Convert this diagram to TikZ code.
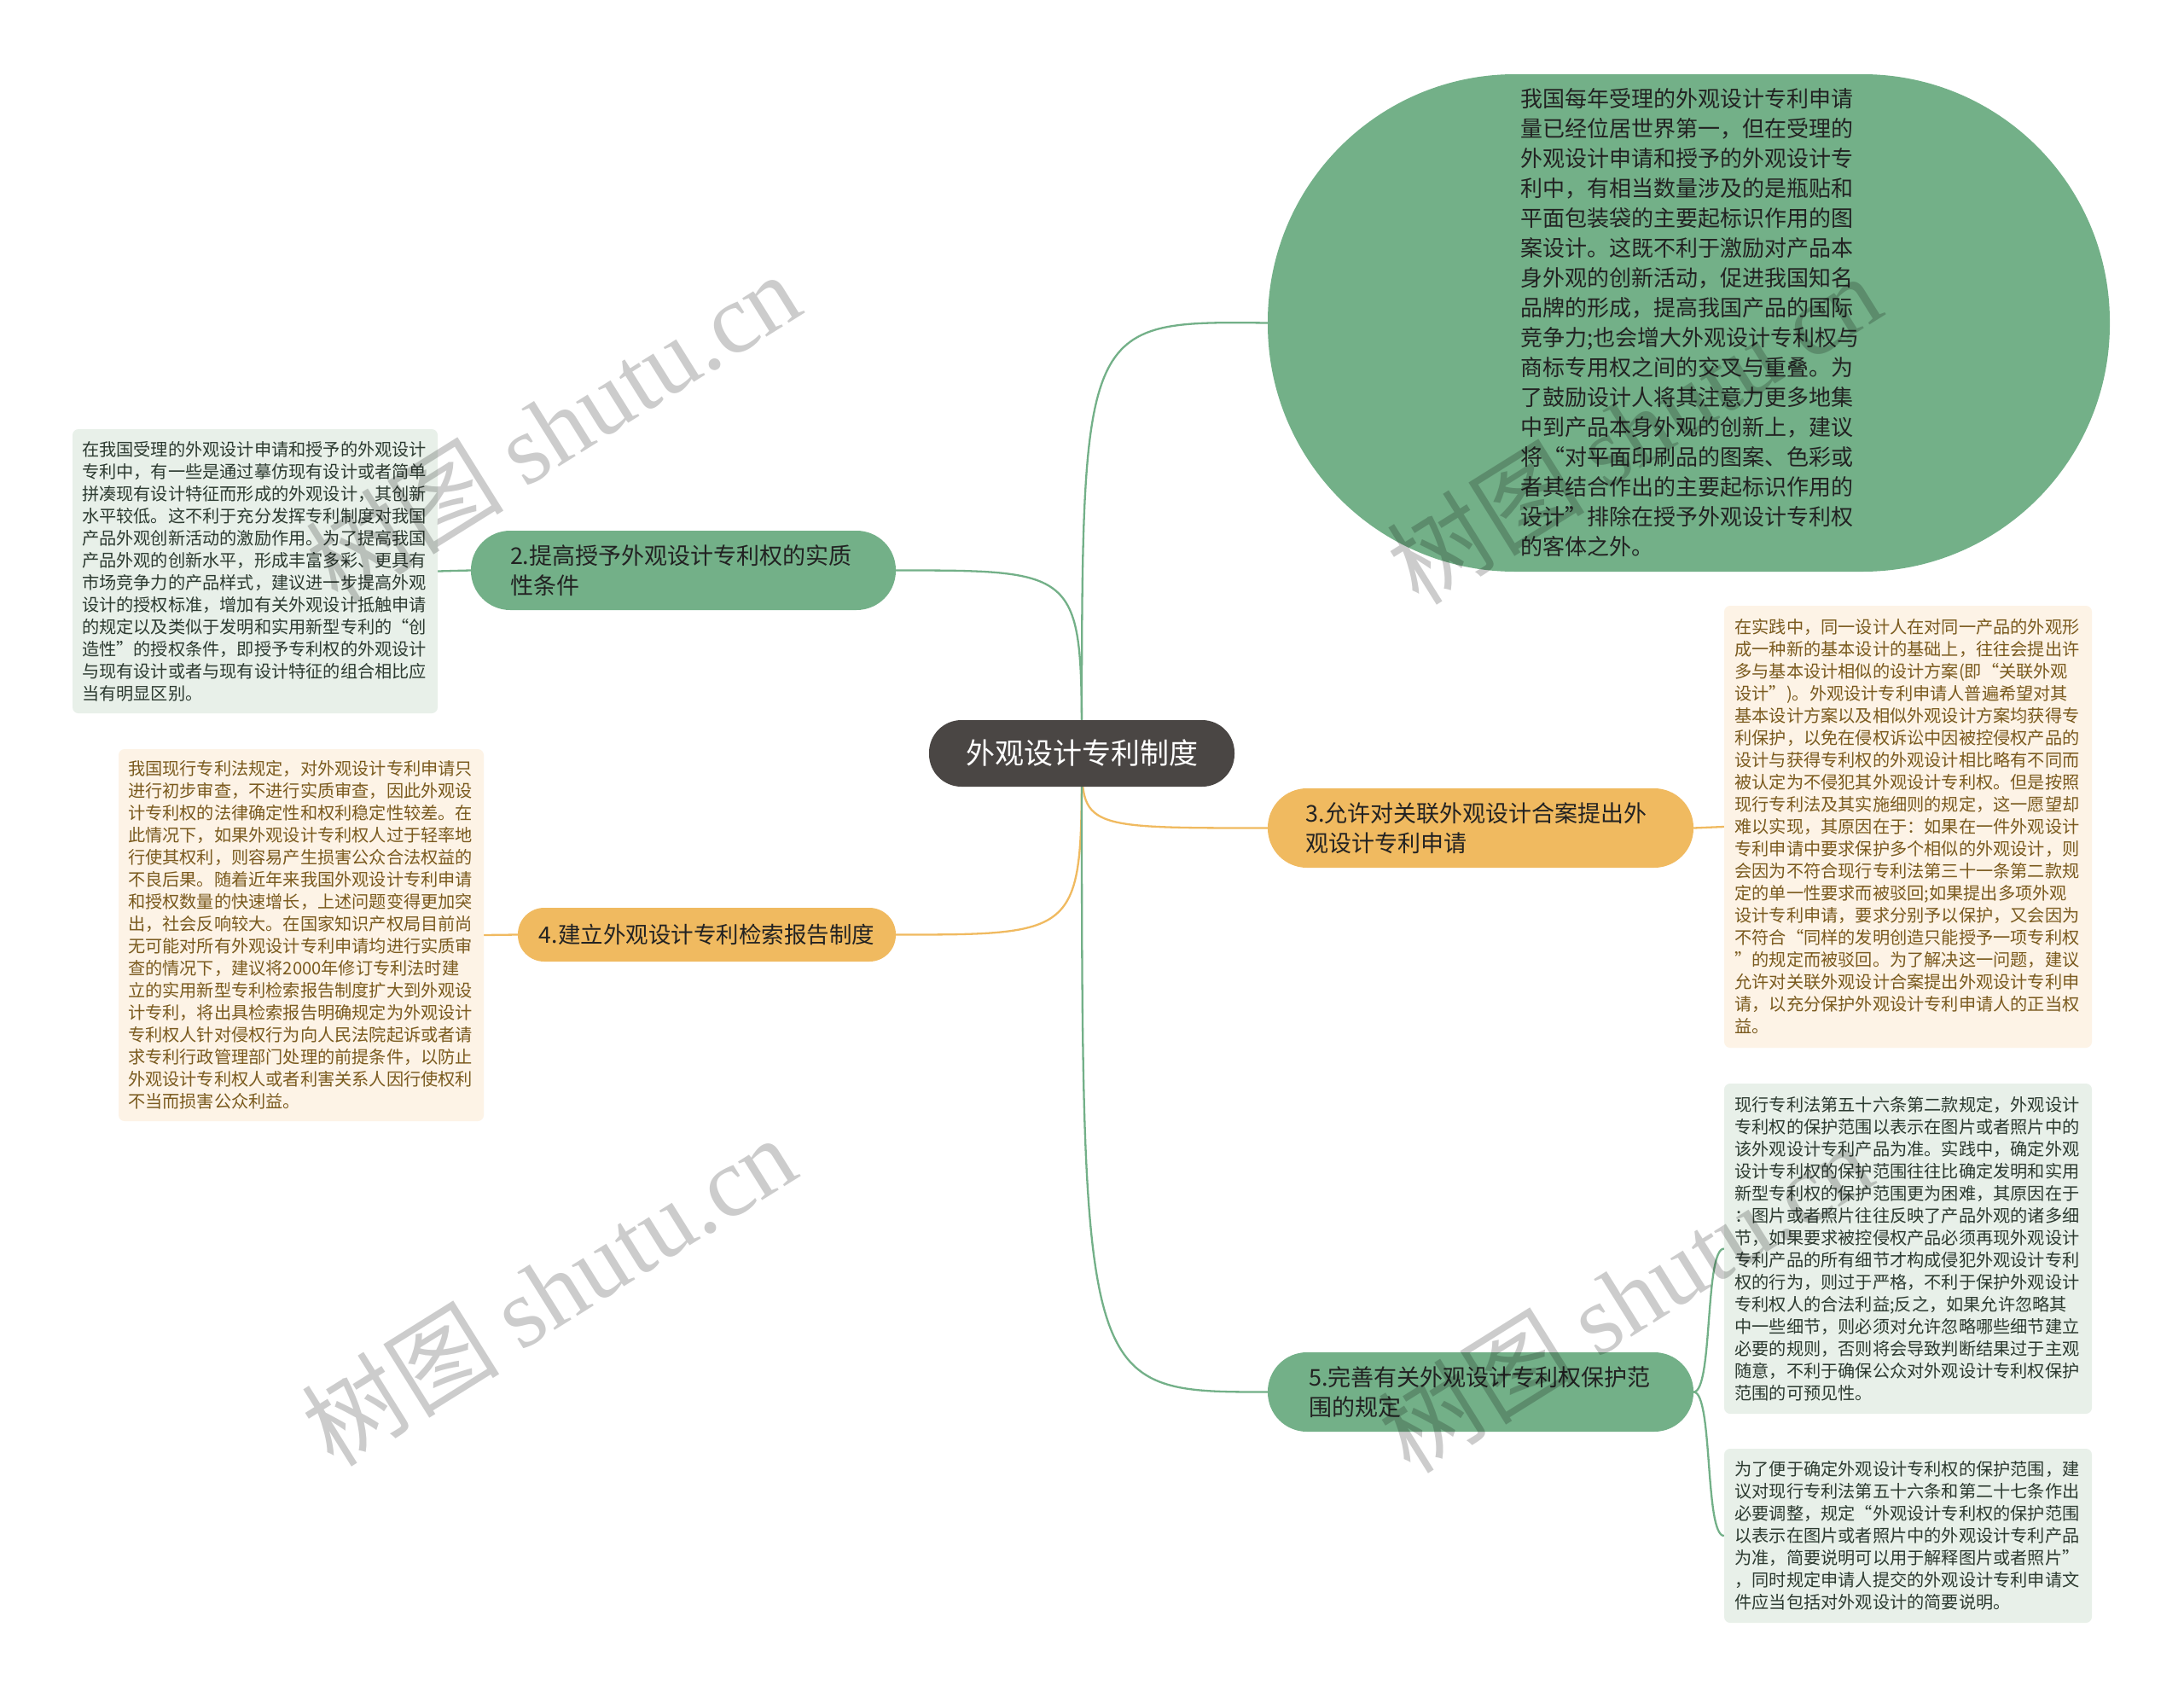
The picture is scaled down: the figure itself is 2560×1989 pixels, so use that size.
\documentclass[tikz,border=0pt]{standalone}
\usepackage{fontspec}
\setmainfont{Noto Sans CJK SC}
\newfontfamily\wmserif{Liberation Serif}
\usetikzlibrary{backgrounds}
\definecolor{cdark}{HTML}{4A4644}
\definecolor{cgreen}{HTML}{73B088}
\definecolor{corange}{HTML}{F0BA60}
\definecolor{lgreen}{HTML}{E8F0E9}
\definecolor{lorange}{HTML}{FDF3E6}
\definecolor{tgreen}{HTML}{2C3A30}
\definecolor{tbrown}{HTML}{7A5A1E}
\definecolor{tdark}{HTML}{222222}
\begin{document}
\begin{tikzpicture}[x=1pt,y=-1pt,
  central/.style={fill=cdark, text=white, rounded corners=38pt, minimum width=358pt, minimum height=78pt, inner sep=0pt, font=\fontsize{34}{40}\selectfont},
  bigbranch/.style={fill=cgreen, text=tdark, rounded corners=290pt, minimum width=987pt, minimum height=583pt, inner sep=0pt, text width=395pt, align=left, font=\fontsize{26}{35}\selectfont},
  branchtwo/.style={rounded corners=46pt, minimum height=93pt, inner ysep=0pt, inner xsep=45pt, text width=410pt, align=left, text=tdark, font=\fontsize{27}{35}\selectfont},
  branchone/.style={rounded corners=31pt, minimum width=443pt, minimum height=63pt, inner sep=0pt, text=tdark, font=\fontsize{26.5}{32}\selectfont},
  gfill/.style={fill=cgreen},
  ofill/.style={fill=corange},
  gnote/.style={fill=lgreen, text=tgreen, rounded corners=7pt, inner sep=0pt, text width=406pt, align=left, font=\fontsize{20.2}{26}\selectfont},
  onote/.style={fill=lorange, text=tbrown, rounded corners=7pt, inner sep=0pt, text width=406pt, align=left, font=\fontsize{20.2}{26}\selectfont},
  gline/.style={draw=cgreen, line width=2.3pt},
  oline/.style={draw=corange, line width=2.3pt},
  wmark/.style={text=black, opacity=0.2, font=\fontsize{116}{120}\selectfont, inner sep=0pt},
]
\useasboundingbox (0,0) rectangle (2560,1989);

% central topic
\node[central] (c) at (1268,883) {外观设计专利制度};

% main branches
\node[bigbranch] (b1) at (1979.5,378.5) {我国每年受理的外观设计专利申请\\量已经位居世界第一，但在受理的\\外观设计申请和授予的外观设计专\\利中，有相当数量涉及的是瓶贴和\\平面包装袋的主要起标识作用的图\\案设计。这既不利于激励对产品本\\身外观的创新活动，促进我国知名\\品牌的形成，提高我国产品的国际\\竞争力;也会增大外观设计专利权与\\商标专用权之间的交叉与重叠。为\\了鼓励设计人将其注意力更多地集\\中到产品本身外观的创新上，建议\\将“对平面印刷品的图案、色彩或\\者其结合作出的主要起标识作用的\\设计”排除在授予外观设计专利权\\的客体之外。};

\node[branchtwo, gfill, inner xsep=46pt, text width=406pt] (b2) at (801,668.5) {2.提高授予外观设计专利权的实质\\性条件};
\node[branchone, ofill] (b4) at (828.5,1095.5) {4.建立外观设计专利检索报告制度};
\node[branchtwo, ofill, inner xsep=44pt, text width=411pt] (b3) at (1735.5,970.5) {3.允许对关联外观设计合案提出外\\观设计专利申请};
\node[branchtwo, gfill, inner xsep=48pt, text width=403pt] (b5) at (1735.5,1631.5) {5.完善有关外观设计专利权保护范\\围的规定};

% notes
\node[gnote, minimum width=428pt, minimum height=333pt] (na) at (299,669.5) {在我国受理的外观设计申请和授予的外观设计\\专利中，有一些是通过摹仿现有设计或者简单\\拼凑现有设计特征而形成的外观设计，其创新\\水平较低。这不利于充分发挥专利制度对我国\\产品外观创新活动的激励作用。为了提高我国\\产品外观的创新水平，形成丰富多彩、更具有\\市场竞争力的产品样式，建议进一步提高外观\\设计的授权标准，增加有关外观设计抵触申请\\的规定以及类似于发明和实用新型专利的“创\\造性”的授权条件，即授予专利权的外观设计\\与现有设计或者与现有设计特征的组合相比应\\当有明显区别。};

\node[onote, minimum width=428pt, minimum height=436pt] (nb) at (353,1096) {我国现行专利法规定，对外观设计专利申请只\\进行初步审查，不进行实质审查，因此外观设\\计专利权的法律确定性和权利稳定性较差。在\\此情况下，如果外观设计专利权人过于轻率地\\行使其权利，则容易产生损害公众合法权益的\\不良后果。随着近年来我国外观设计专利申请\\和授权数量的快速增长，上述问题变得更加突\\出，社会反响较大。在国家知识产权局目前尚\\无可能对所有外观设计专利申请均进行实质审\\查的情况下，建议将2000年修订专利法时建\\立的实用新型专利检索报告制度扩大到外观设\\计专利，将出具检索报告明确规定为外观设计\\专利权人针对侵权行为向人民法院起诉或者请\\求专利行政管理部门处理的前提条件，以防止\\外观设计专利权人或者利害关系人因行使权利\\不当而损害公众利益。};

\node[onote, minimum width=431pt, minimum height=518pt] (nc) at (2236.5,969) {在实践中，同一设计人在对同一产品的外观形\\成一种新的基本设计的基础上，往往会提出许\\多与基本设计相似的设计方案(即“关联外观\\设计”)。外观设计专利申请人普遍希望对其\\基本设计方案以及相似外观设计方案均获得专\\利保护，以免在侵权诉讼中因被控侵权产品的\\设计与获得专利权的外观设计相比略有不同而\\被认定为不侵犯其外观设计专利权。但是按照\\现行专利法及其实施细则的规定，这一愿望却\\难以实现，其原因在于：如果在一件外观设计\\专利申请中要求保护多个相似的外观设计，则\\会因为不符合现行专利法第三十一条第二款规\\定的单一性要求而被驳回;如果提出多项外观\\设计专利申请，要求分别予以保护，又会因为\\不符合“同样的发明创造只能授予一项专利权\\”的规定而被驳回。为了解决这一问题，建议\\允许对关联外观设计合案提出外观设计专利申\\请，以充分保护外观设计专利申请人的正当权\\益。};

\node[gnote, minimum width=431pt, minimum height=387pt] (nd) at (2236.5,1463.5) {现行专利法第五十六条第二款规定，外观设计\\专利权的保护范围以表示在图片或者照片中的\\该外观设计专利产品为准。实践中，确定外观\\设计专利权的保护范围往往比确定发明和实用\\新型专利权的保护范围更为困难，其原因在于\\：图片或者照片往往反映了产品外观的诸多细\\节，如果要求被控侵权产品必须再现外观设计\\专利产品的所有细节才构成侵犯外观设计专利\\权的行为，则过于严格，不利于保护外观设计\\专利权人的合法利益;反之，如果允许忽略其\\中一些细节，则必须对允许忽略哪些细节建立\\必要的规则，否则将会导致判断结果过于主观\\随意，不利于确保公众对外观设计专利权保护\\范围的可预见性。};

\node[gnote, minimum width=431pt, minimum height=204pt] (ne) at (2236.5,1800) {为了便于确定外观设计专利权的保护范围，建\\议对现行专利法第五十六条和第二十七条作出\\必要调整，规定“外观设计专利权的保护范围\\以表示在图片或者照片中的外观设计专利产品\\为准，简要说明可以用于解释图片或者照片”\\，同时规定申请人提交的外观设计专利申请文\\件应当包括对外观设计的简要说明。};

% connectors
\begin{pgfonlayer}{background}
\fill[white] (0,0) rectangle (2560,1989);
\draw[gline] (c.center) .. controls (1268,376) .. (b1.west);
\draw[gline] (c.center) .. controls (1268,668.5) .. (b2.east);
\draw[oline] (c.center) .. controls (1268,1095.5) .. (b4.east);
\draw[oline] (c.center) .. controls (1268,970.5) .. (b3.west);
\draw[gline] (c.center) .. controls (1268,1631.5) .. (b5.west);
\draw[gline] (b2.west) -- (na.east);
\draw[oline] (b4.west) -- (nb.east);
\draw[oline] (b3.east) -- (nc.west);
\draw[gline] (b5.east) .. controls (2008,1631.5) and (1998,1463.5) .. (nd.west);
\draw[gline] (b5.east) .. controls (2008,1631.5) and (1998,1800) .. (ne.west);
\end{pgfonlayer}

% watermarks
\node[wmark, rotate=32] (w1) at (648,500) {树图 {\wmserif shutu.cn}};
\node[wmark, rotate=32] (w2) at (643,1512) {树图 {\wmserif shutu.cn}};
\node[wmark, rotate=32] (w3) at (1915,502) {树图 {\wmserif shutu.cn}};
\node[wmark, rotate=32] (w4) at (1905,1520) {树图 {\wmserif shutu.cn}};
\end{tikzpicture}
\end{document}
